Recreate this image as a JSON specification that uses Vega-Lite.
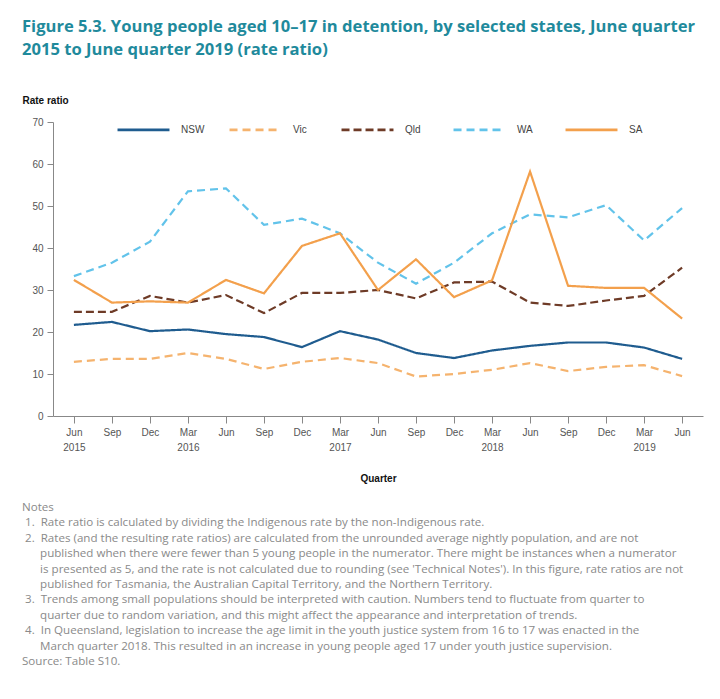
{
  "$schema": "https://vega.github.io/schema/vega-lite/v6.json",
  "background": "white",
  "padding": {"left": 22, "top": 19, "right": 10, "bottom": 10},
  "title": {
    "text": ["Figure 5.3. Young people aged 10–17 in detention, by selected states, June quarter", "2015 to June quarter 2019 (rate ratio)"],
    "anchor": "start",
    "color": "#1f8a9c",
    "font": "Open Sans",
    "fontSize": 16.6,
    "fontWeight": "bold",
    "lineHeight": 23,
    "offset": 36
  },
  "config": {
    "view": {"stroke": null},
    "axis": {
      "labelFont": "Liberation Sans",
      "labelFontSize": 10,
      "labelColor": "#555",
      "tickColor": "#888",
      "domainColor": "#888",
      "titleFont": "Liberation Sans",
      "titleFontSize": 10,
      "titleFontWeight": "bold",
      "titleColor": "#111"
    }
  },
  "vconcat": [
    {
      "width": 650,
      "height": 294,
      "title": {
        "text": [
          "Notes",
          "\u200b\u00a01.\u00a0\u00a0Rate ratio is calculated by dividing the Indigenous rate by the non-Indigenous rate.",
          "\u200b\u00a02.\u00a0\u00a0Rates (and the resulting rate ratios) are calculated from the unrounded average nightly population, and are not",
          "\u200b\u00a0\u00a0\u00a0\u00a0\u00a0\u00a0published when there were fewer than 5 young people in the numerator. There might be instances when a numerator",
          "\u200b\u00a0\u00a0\u00a0\u00a0\u00a0\u00a0is presented as 5, and the rate is not calculated due to rounding (see 'Technical Notes'). In this figure, rate ratios are not",
          "\u200b\u00a0\u00a0\u00a0\u00a0\u00a0\u00a0published for Tasmania, the Australian Capital Territory, and the Northern Territory.",
          "\u200b\u00a03.\u00a0\u00a0Trends among small populations should be interpreted with caution. Numbers tend to fluctuate from quarter to",
          "\u200b\u00a0\u00a0\u00a0\u00a0\u00a0\u00a0quarter due to random variation, and this might affect the appearance and interpretation of trends.",
          "\u200b\u00a04.\u00a0\u00a0In Queensland, legislation to increase the age limit in the youth justice system from 16 to 17 was enacted in the",
          "\u200b\u00a0\u00a0\u00a0\u00a0\u00a0\u00a0March quarter 2018. This resulted in an increase in young people aged 17 under youth justice supervision.",
          "Source: Table S10."
        ],
        "orient": "bottom",
        "anchor": "start",
        "font": "Open Sans",
        "fontSize": 11.6,
        "fontWeight": "normal",
        "color": "#8a8a8a",
        "lineHeight": 15.4,
        "offset": 19
      },
      "data": {
        "values": [
          {"quarter": "Jun 2015", "state": "NSW", "value": 21.7},
          {"quarter": "Sep 2015", "state": "NSW", "value": 22.4},
          {"quarter": "Dec 2015", "state": "NSW", "value": 20.2},
          {"quarter": "Mar 2016", "state": "NSW", "value": 20.6},
          {"quarter": "Jun 2016", "state": "NSW", "value": 19.5},
          {"quarter": "Sep 2016", "state": "NSW", "value": 18.8},
          {"quarter": "Dec 2016", "state": "NSW", "value": 16.4},
          {"quarter": "Mar 2017", "state": "NSW", "value": 20.2},
          {"quarter": "Jun 2017", "state": "NSW", "value": 18.2},
          {"quarter": "Sep 2017", "state": "NSW", "value": 15.0},
          {"quarter": "Dec 2017", "state": "NSW", "value": 13.8},
          {"quarter": "Mar 2018", "state": "NSW", "value": 15.6},
          {"quarter": "Jun 2018", "state": "NSW", "value": 16.7},
          {"quarter": "Sep 2018", "state": "NSW", "value": 17.5},
          {"quarter": "Dec 2018", "state": "NSW", "value": 17.5},
          {"quarter": "Mar 2019", "state": "NSW", "value": 16.3},
          {"quarter": "Jun 2019", "state": "NSW", "value": 13.6},
          {"quarter": "Jun 2015", "state": "Vic", "value": 12.9},
          {"quarter": "Sep 2015", "state": "Vic", "value": 13.6},
          {"quarter": "Dec 2015", "state": "Vic", "value": 13.6},
          {"quarter": "Mar 2016", "state": "Vic", "value": 15.0},
          {"quarter": "Jun 2016", "state": "Vic", "value": 13.6},
          {"quarter": "Sep 2016", "state": "Vic", "value": 11.2},
          {"quarter": "Dec 2016", "state": "Vic", "value": 12.9},
          {"quarter": "Mar 2017", "state": "Vic", "value": 13.8},
          {"quarter": "Jun 2017", "state": "Vic", "value": 12.6},
          {"quarter": "Sep 2017", "state": "Vic", "value": 9.4},
          {"quarter": "Dec 2017", "state": "Vic", "value": 10.0},
          {"quarter": "Mar 2018", "state": "Vic", "value": 11.0},
          {"quarter": "Jun 2018", "state": "Vic", "value": 12.6},
          {"quarter": "Sep 2018", "state": "Vic", "value": 10.7},
          {"quarter": "Dec 2018", "state": "Vic", "value": 11.7},
          {"quarter": "Mar 2019", "state": "Vic", "value": 12.1},
          {"quarter": "Jun 2019", "state": "Vic", "value": 9.5},
          {"quarter": "Jun 2015", "state": "Qld", "value": 24.8},
          {"quarter": "Sep 2015", "state": "Qld", "value": 24.8},
          {"quarter": "Dec 2015", "state": "Qld", "value": 28.6},
          {"quarter": "Mar 2016", "state": "Qld", "value": 27.0},
          {"quarter": "Jun 2016", "state": "Qld", "value": 28.8},
          {"quarter": "Sep 2016", "state": "Qld", "value": 24.5},
          {"quarter": "Dec 2016", "state": "Qld", "value": 29.3},
          {"quarter": "Mar 2017", "state": "Qld", "value": 29.3},
          {"quarter": "Jun 2017", "state": "Qld", "value": 30.0},
          {"quarter": "Sep 2017", "state": "Qld", "value": 28.0},
          {"quarter": "Dec 2017", "state": "Qld", "value": 31.8},
          {"quarter": "Mar 2018", "state": "Qld", "value": 32.0},
          {"quarter": "Jun 2018", "state": "Qld", "value": 27.0},
          {"quarter": "Sep 2018", "state": "Qld", "value": 26.2},
          {"quarter": "Dec 2018", "state": "Qld", "value": 27.5},
          {"quarter": "Mar 2019", "state": "Qld", "value": 28.6},
          {"quarter": "Jun 2019", "state": "Qld", "value": 35.3},
          {"quarter": "Jun 2015", "state": "WA", "value": 33.3},
          {"quarter": "Sep 2015", "state": "WA", "value": 36.5},
          {"quarter": "Dec 2015", "state": "WA", "value": 41.5},
          {"quarter": "Mar 2016", "state": "WA", "value": 53.5},
          {"quarter": "Jun 2016", "state": "WA", "value": 54.2},
          {"quarter": "Sep 2016", "state": "WA", "value": 45.5},
          {"quarter": "Dec 2016", "state": "WA", "value": 47.0},
          {"quarter": "Mar 2017", "state": "WA", "value": 43.5},
          {"quarter": "Jun 2017", "state": "WA", "value": 36.5},
          {"quarter": "Sep 2017", "state": "WA", "value": 31.5},
          {"quarter": "Dec 2017", "state": "WA", "value": 36.5},
          {"quarter": "Mar 2018", "state": "WA", "value": 43.5},
          {"quarter": "Jun 2018", "state": "WA", "value": 48.0},
          {"quarter": "Sep 2018", "state": "WA", "value": 47.3},
          {"quarter": "Dec 2018", "state": "WA", "value": 50.2},
          {"quarter": "Mar 2019", "state": "WA", "value": 41.8},
          {"quarter": "Jun 2019", "state": "WA", "value": 49.5},
          {"quarter": "Jun 2015", "state": "SA", "value": 32.4},
          {"quarter": "Sep 2015", "state": "SA", "value": 27.0},
          {"quarter": "Dec 2015", "state": "SA", "value": 27.3},
          {"quarter": "Mar 2016", "state": "SA", "value": 27.0},
          {"quarter": "Jun 2016", "state": "SA", "value": 32.4},
          {"quarter": "Sep 2016", "state": "SA", "value": 29.2},
          {"quarter": "Dec 2016", "state": "SA", "value": 40.5},
          {"quarter": "Mar 2017", "state": "SA", "value": 43.5},
          {"quarter": "Jun 2017", "state": "SA", "value": 30.0},
          {"quarter": "Sep 2017", "state": "SA", "value": 37.3},
          {"quarter": "Dec 2017", "state": "SA", "value": 28.3},
          {"quarter": "Mar 2018", "state": "SA", "value": 32.3},
          {"quarter": "Jun 2018", "state": "SA", "value": 58.2},
          {"quarter": "Sep 2018", "state": "SA", "value": 31.0},
          {"quarter": "Dec 2018", "state": "SA", "value": 30.5},
          {"quarter": "Mar 2019", "state": "SA", "value": 30.5},
          {"quarter": "Jun 2019", "state": "SA", "value": 23.2}
        ]
      },
      "mark": {"type": "line", "strokeWidth": 2.2},
      "encoding": {
        "x": {
          "field": "quarter",
          "type": "ordinal",
          "sort": null,
          "scale": {"type": "point", "padding": 0.55},
          "axis": {
            "title": "Quarter",
            "labelAngle": 0,
            "labelPadding": 4,
            "labelLineHeight": 15,
            "tickSize": 7,
            "titlePadding": 21,
            "labelExpr": "indexof(['Jun 2015','Mar 2016','Mar 2017','Mar 2018','Mar 2019'], datum.value) >= 0 ? split(datum.value, ' ') : slice(datum.value, 0, 3)"
          }
        },
        "y": {
          "field": "value",
          "type": "quantitative",
          "scale": {"domain": [0, 70], "nice": false},
          "axis": {
            "title": "Rate ratio",
            "titleAngle": 0,
            "titleAlign": "left",
            "titleBaseline": "middle",
            "titleX": -31,
            "titleY": -22,
            "values": [0, 10, 20, 30, 40, 50, 60, 70],
            "grid": false,
            "tickSize": 6,
            "labelPadding": 4
          }
        },
        "color": {
          "field": "state",
          "type": "nominal",
          "scale": {
            "domain": ["NSW", "Vic", "Qld", "WA", "SA"],
            "range": ["#1f5c8f", "#f5b36e", "#6e3b27", "#62c3ea", "#f3a04c"]
          },
          "legend": {
            "title": null,
            "orient": "none",
            "direction": "horizontal",
            "legendX": 63,
            "legendY": -20,
            "symbolType": "stroke",
            "symbolSize": 2700,
            "symbolStrokeWidth": 2.8,
            "labelFont": "Liberation Sans",
            "labelFontSize": 10,
            "labelColor": "#444",
            "labelOffset": 10,
            "columnPadding": 18,
            "gridAlign": "all"
          }
        },
        "strokeDash": {
          "field": "state",
          "type": "nominal",
          "scale": {
            "domain": ["NSW", "Vic", "Qld", "WA", "SA"],
            "range": [[1, 0], [8, 5], [8, 4], [8, 5], [1, 0]]
          },
          "legend": null
        }
      }
    }
  ]
}
